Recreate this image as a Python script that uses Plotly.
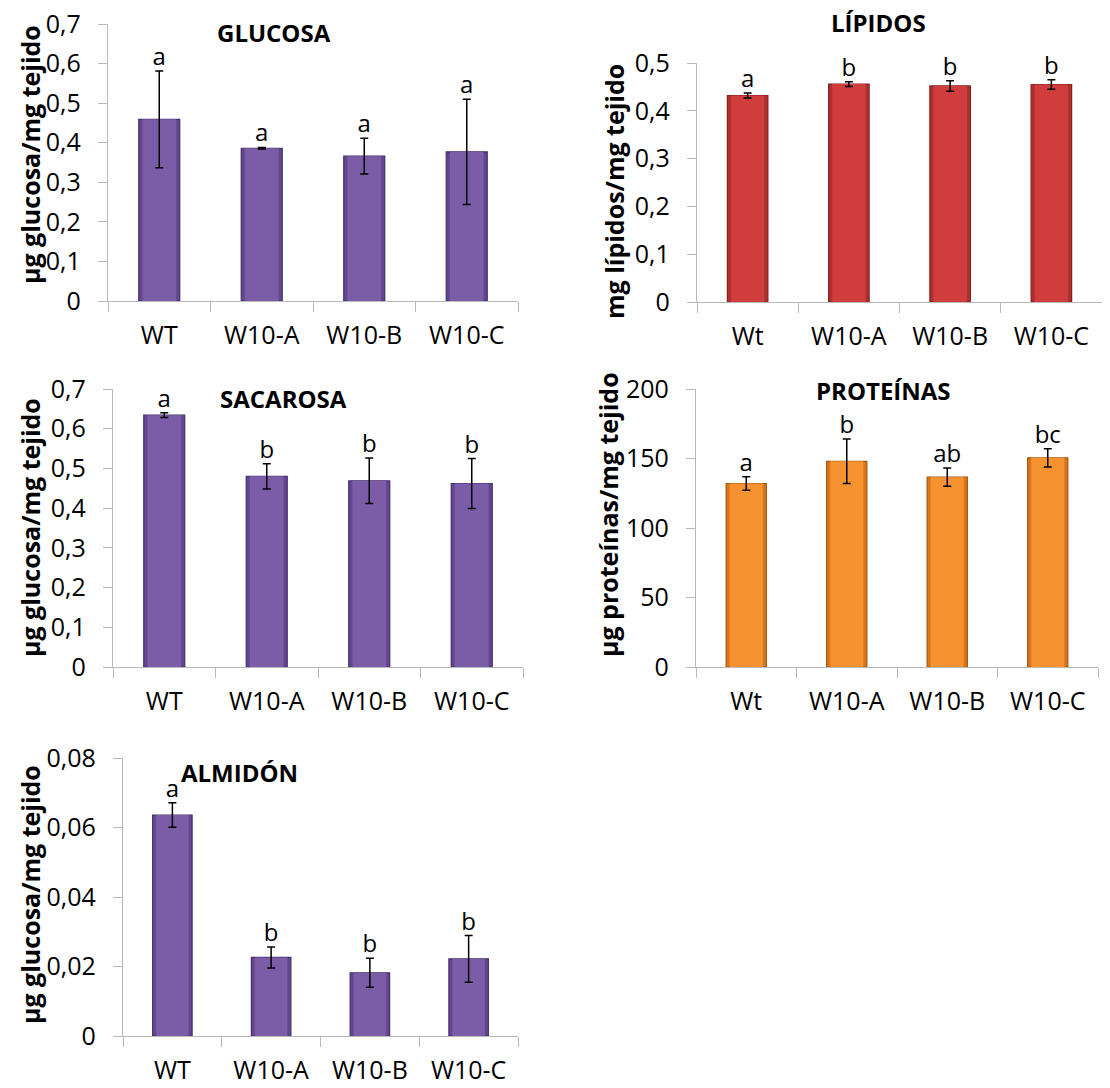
"""Metabolitos en hojas: WT vs líneas W10 (Plotly, 5 paneles)"""
import plotly.graph_objects as go

# page is 1110x1088; the html body keeps an 8px margin, so the figure is drawn
# 16px smaller and every page position is shifted by 8px
PAGE_W, PAGE_H, BODY = 1110, 1088, 8
W, H = PAGE_W - 2 * BODY, PAGE_H - 2 * BODY

lines_upper = ["WT", "W10-A", "W10-B", "W10-C"]
lines_lower = ["Wt", "W10-A", "W10-B", "W10-C"]

glucosa = [0.459, 0.386, 0.366, 0.377]
glucosa_err = [0.122, 0.002, 0.045, 0.133]
glucosa_let = ["a", "a", "a", "a"]

lipidos = [0.432, 0.456, 0.452, 0.455]
lipidos_err = [0.005, 0.005, 0.011, 0.010]
lipidos_let = ["a", "b", "b", "b"]

sacarosa = [0.634, 0.480, 0.469, 0.462]
sacarosa_err = [0.006, 0.032, 0.057, 0.063]
sacarosa_let = ["a", "b", "b", "b"]

proteinas = [132, 148, 136.6, 150.5]
proteinas_err = [4.8, 16, 6.5, 6.6]
proteinas_let = ["a", "b", "ab", "bc"]

almidon = [0.0636, 0.0226, 0.0182, 0.0222]
almidon_err = [0.0035, 0.003, 0.0042, 0.0067]
almidon_let = ["a", "b", "b", "b"]

# (face, bevel edge, outline)
PURPLE = ("#7a5ca7", "#62478e", "#46326b")
RED = ("#cf3d3c", "#b02f2f", "#842121")
ORANGE = ("#f6922f", "#d9761c", "#a4570f")

FONT = "Open Sans"
AXIS_GREY = "#b9b9b9"


def fx(px):
    return (px - BODY) / W


def fy(px):
    return 1 - (px - BODY) / H


def fmt_tick(t, dec):
    if t == 0:
        return "0"
    return f"{t:.{dec}f}".replace(".", ",")


panels = [
    dict(title="GLUCOSA", cats=lines_upper, v=glucosa, e=glucosa_err, l=glucosa_let,
         col=PURPLE, yr=[0, 0.7], dt=0.1, dec=1,
         xd=(108, 518), yd=(24, 301), tx=274, ty=33,
         yt="µg glucosa/mg tejido", ytx=30, yty=155),
    dict(title="LÍPIDOS", cats=lines_lower, v=lipidos, e=lipidos_err, l=lipidos_let,
         col=RED, yr=[0, 0.5], dt=0.1, dec=1,
         xd=(697, 1108), yd=(63, 302), tx=878, ty=22,
         yt="mg lípidos/mg tejido", ytx=614, yty=192),
    dict(title="SACAROSA", cats=lines_upper, v=sacarosa, e=sacarosa_err, l=sacarosa_let,
         col=PURPLE, yr=[0, 0.7], dt=0.1, dec=1,
         xd=(113, 523), yd=(389, 667), tx=283, ty=398,
         yt="µg glucosa/mg tejido", ytx=30, yty=528),
    dict(title="PROTEÍNAS", cats=lines_lower, v=proteinas, e=proteinas_err, l=proteinas_let,
         col=ORANGE, yr=[0, 200], dt=50, dec=0,
         xd=(696, 1098), yd=(389, 667), tx=883, ty=390,
         yt="µg proteínas/mg tejido", ytx=608, yty=515),
    dict(title="ALMIDÓN", cats=lines_upper, v=almidon, e=almidon_err, l=almidon_let,
         col=PURPLE, yr=[0, 0.08], dt=0.02, dec=2,
         xd=(123, 518), yd=(758, 1036), tx=240, ty=772,
         yt="µg glucosa/mg tejido", ytx=30, yty=895),
]

fig = go.Figure()
annotations = []
layout_axes = {}

for i, p in enumerate(panels, start=1):
    xa, ya = f"x{i}", f"y{i}"
    face, bevel, outline = p["col"]
    # outer bar gives the darker bevelled sides, inner bar the lighter face
    fig.add_trace(go.Bar(
        x=p["cats"], y=p["v"], xaxis=xa, yaxis=ya, width=0.40,
        marker=dict(color=bevel, line=dict(color=outline, width=1.2)),
        showlegend=False, hoverinfo="skip",
    ))
    fig.add_trace(go.Bar(
        x=p["cats"], y=p["v"], xaxis=xa, yaxis=ya, width=0.33,
        marker=dict(color=face, line=dict(width=0)),
        error_y=dict(type="data", array=p["e"], color="black", thickness=1.5, width=4),
        showlegend=False, hoverinfo="skip",
    ))
    fig.add_trace(go.Scatter(
        x=p["cats"], y=[v + e for v, e in zip(p["v"], p["e"])], xaxis=xa, yaxis=ya,
        mode="text", text=p["l"], textposition="top center",
        textfont=dict(family=FONT, size=24, color="black"),
        showlegend=False, hoverinfo="skip", cliponaxis=False,
    ))
    n = int(round((p["yr"][1] - p["yr"][0]) / p["dt"]))
    ticks = [p["yr"][0] + k * p["dt"] for k in range(n + 1)]
    labels = [fmt_tick(t, p["dec"]) for t in ticks]
    key = "" if i == 1 else str(i)
    layout_axes["xaxis" + key] = dict(
        domain=[fx(p["xd"][0]), min(1.0, fx(p["xd"][1]))], anchor=ya,
        type="category", tickson="boundaries",
        showline=True, linecolor=AXIS_GREY, linewidth=1.2,
        ticks="outside", ticklen=10, tickcolor=AXIS_GREY, tickwidth=1.2,
        tickfont=dict(family=FONT, size=25, color="black"), ticklabelstandoff=12,
        ticklabeloverflow="allow",
        showgrid=False, fixedrange=True, automargin=False,
    )
    layout_axes["yaxis" + key] = dict(
        domain=[fy(p["yd"][1]), fy(p["yd"][0])], anchor=xa,
        range=p["yr"], tickvals=ticks, ticktext=labels,
        showline=True, linecolor=AXIS_GREY, linewidth=1.2,
        ticks="outside", ticklen=9, tickcolor=AXIS_GREY, tickwidth=1.2,
        tickfont=dict(family=FONT, size=25, color="black"), ticklabelstandoff=12,
        ticklabeloverflow="allow",
        showgrid=False, zeroline=False, fixedrange=True, automargin=False,
    )
    annotations.append(dict(
        text=f"<b>{p['title']}</b>", x=fx(p["tx"]), y=fy(p["ty"]),
        xref="paper", yref="paper", xanchor="center", yanchor="middle", showarrow=False,
        font=dict(family=FONT, size=24, color="black"),
    ))
    annotations.append(dict(
        text=f"<b>{p['yt']}</b>", x=fx(p["ytx"]), y=fy(p["yty"]),
        xref="paper", yref="paper", xanchor="center", yanchor="middle",
        showarrow=False, textangle=-90,
        font=dict(family=FONT, size=25, color="black"),
    ))

fig.update_layout(
    width=W, height=H, margin=dict(l=0, r=0, t=0, b=0, autoexpand=False),
    paper_bgcolor="white", plot_bgcolor="white", barmode="overlay",
    annotations=annotations,
    **layout_axes,
)
fig.write_html("out.html")
print("Saved: out.html")
